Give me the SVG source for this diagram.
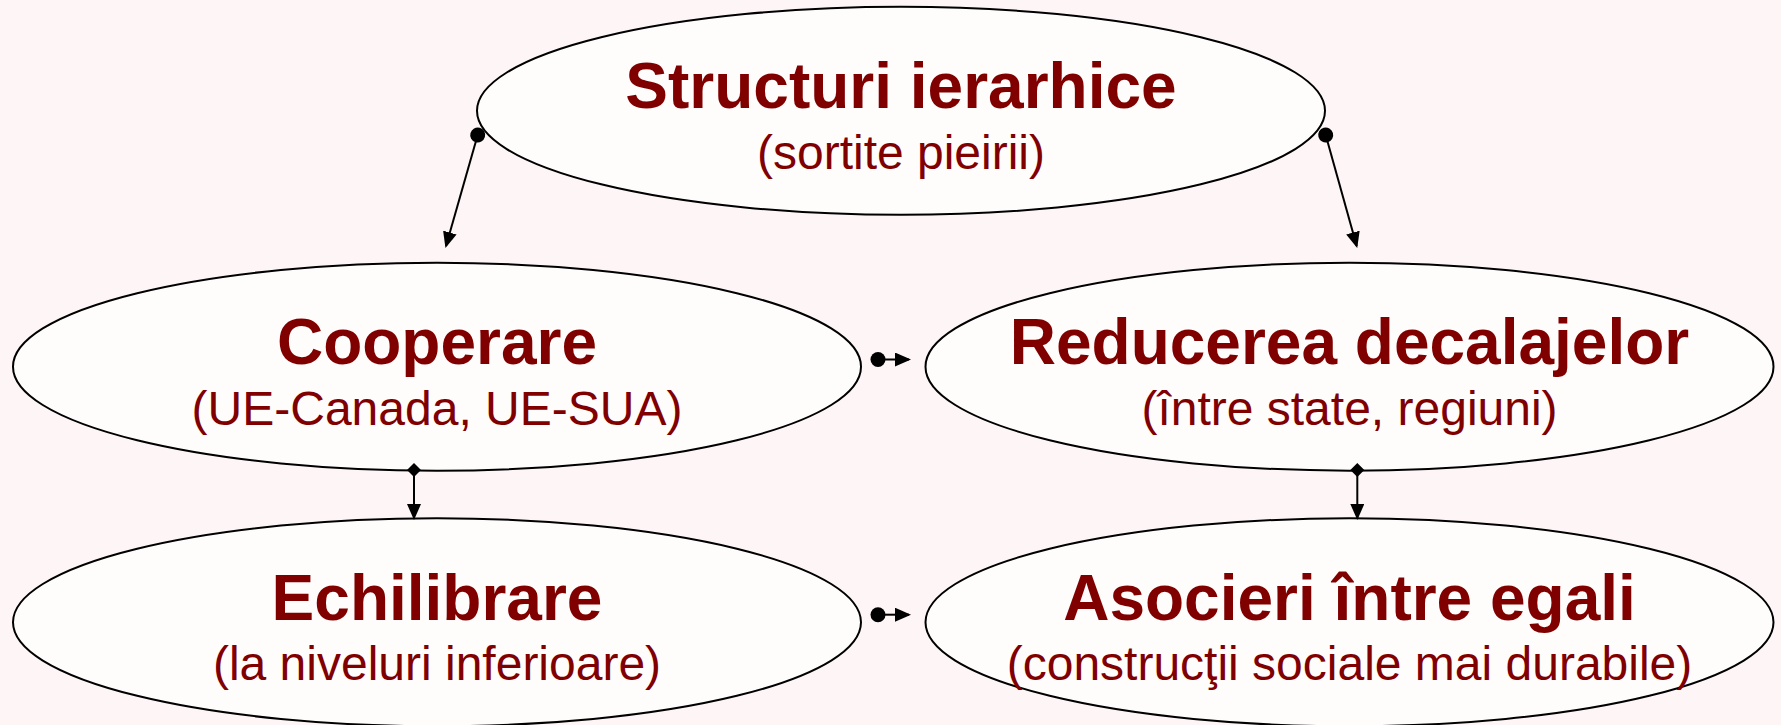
<svg xmlns="http://www.w3.org/2000/svg" width="1781" height="725" viewBox="0 0 1781 725">
  <style>
    .node ellipse { fill: #fffcfc; stroke: #000; stroke-width: 2; }
    .title { font-family: "Liberation Sans", Arial, sans-serif; font-weight: bold; font-size: 64px; fill: #800000; text-anchor: middle; }
    .sub { font-family: "Liberation Sans", Arial, sans-serif; font-size: 48px; fill: #800000; text-anchor: middle; }
    .conn { stroke: #000; stroke-width: 2; fill: none; }
  </style>
  <defs>
    <marker id="arrow" markerUnits="userSpaceOnUse" markerWidth="16" markerHeight="14" refX="14" refY="7" orient="auto">
      <path d="M0,0 L16,7 L0,14 z" fill="#000"/>
    </marker>
    <marker id="dot" markerUnits="userSpaceOnUse" markerWidth="16" markerHeight="16" refX="8" refY="8" orient="auto">
      <circle cx="8" cy="8" r="7.5" fill="#000"/>
    </marker>
    <marker id="diamond" markerUnits="userSpaceOnUse" markerWidth="16" markerHeight="16" refX="8" refY="8" orient="auto">
      <path d="M1,8 L8,1 L15,8 L8,15 z" fill="#000"/>
    </marker>
  </defs>
  <rect x="0" y="0" width="1781" height="725" fill="#fdf5f6"/>

  <g id="node-structuri" class="node">
    <ellipse cx="901" cy="110.8" rx="424" ry="104"/>
    <text class="title" x="901" y="107.5">Structuri ierarhice</text>
    <text class="sub" x="901" y="168.5">(sortite pieirii)</text>
  </g>
  <g id="node-cooperare" class="node">
    <ellipse cx="437" cy="366.7" rx="424" ry="104"/>
    <text class="title" x="437" y="363.5">Cooperare</text>
    <text class="sub" x="437" y="425">(UE-Canada, UE-SUA)</text>
  </g>
  <g id="node-reducerea" class="node">
    <ellipse cx="1349.5" cy="366.7" rx="424" ry="104"/>
    <text class="title" x="1349.5" y="363.5">Reducerea decalajelor</text>
    <text class="sub" x="1349.5" y="425">(între state, regiuni)</text>
  </g>
  <g id="node-echilibrare" class="node">
    <ellipse cx="437" cy="622.3" rx="424" ry="104"/>
    <text class="title" x="437" y="620">Echilibrare</text>
    <text class="sub" x="437" y="680">(la niveluri inferioare)</text>
  </g>
  <g id="node-asocieri" class="node">
    <ellipse cx="1349.5" cy="622.3" rx="424" ry="104"/>
    <text class="title" x="1349.5" y="620">Asocieri între egali</text>
    <text class="sub" x="1349.5" y="680">(construcţii sociale mai durabile)</text>
  </g>

  <g id="connectors">
    <line class="conn" x1="477.7" y1="135" x2="446" y2="246" marker-start="url(#dot)" marker-end="url(#arrow)"/>
    <line class="conn" x1="1325.7" y1="135" x2="1356.7" y2="246" marker-start="url(#dot)" marker-end="url(#arrow)"/>
    <line class="conn" x1="878" y1="359.5" x2="909" y2="359.5" marker-start="url(#dot)" marker-end="url(#arrow)"/>
    <line class="conn" x1="878" y1="614.7" x2="909" y2="614.7" marker-start="url(#dot)" marker-end="url(#arrow)"/>
    <line class="conn" x1="414" y1="470" x2="414" y2="518" marker-start="url(#diamond)" marker-end="url(#arrow)"/>
    <line class="conn" x1="1357.3" y1="470" x2="1357.3" y2="518" marker-start="url(#diamond)" marker-end="url(#arrow)"/>
  </g>
</svg>
